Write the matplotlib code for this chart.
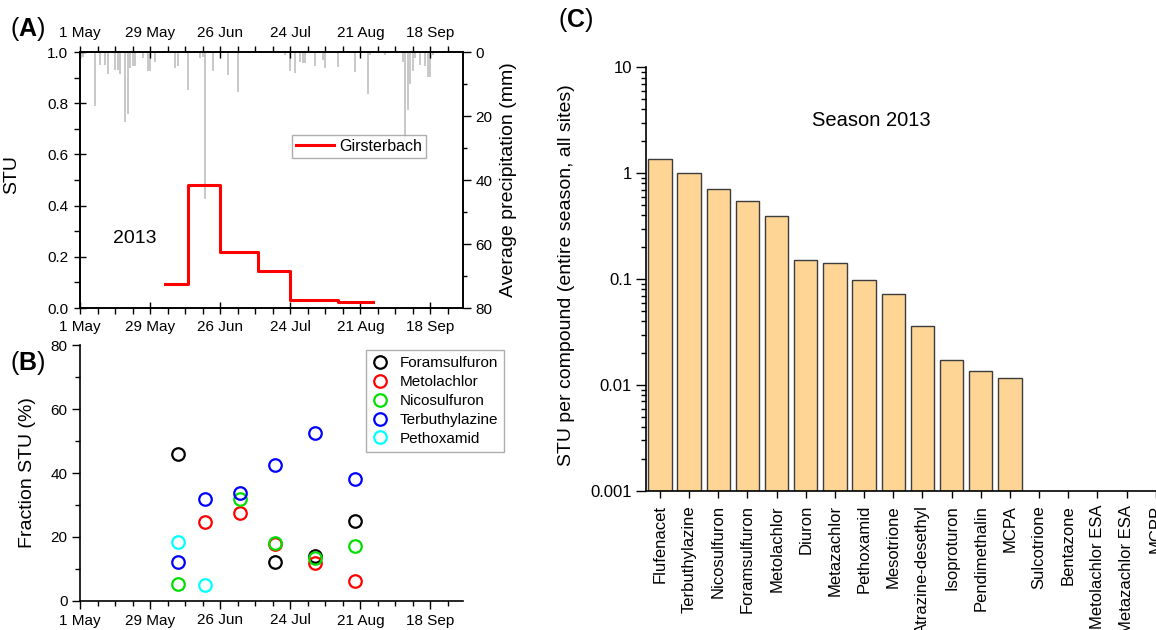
import numpy as np
import matplotlib
matplotlib.use("Agg")
import matplotlib.pyplot as plt
import matplotlib.dates as mdates
import matplotlib.ticker as mticker

plt.rcParams['font.family'] = ['Liberation Sans', 'DejaVu Sans']
plt.rcParams['mathtext.fontset'] = 'custom'
plt.rcParams['mathtext.rm'] = 'Liberation Sans'
plt.rcParams['mathtext.bf'] = 'Liberation Sans:bold'

# ---------------- data ----------------
step_dates = ["2013-06-04", "2013-06-13", "2013-06-26", "2013-07-11",
              "2013-07-24", "2013-08-12", "2013-08-26"]
step_stu = [0.095, 0.48, 0.22, 0.145, 0.03, 0.022]

precip_dates = ["2013-05-01", "2013-05-02", "2013-05-07", "2013-05-09", "2013-05-11",
                "2013-05-12", "2013-05-15", "2013-05-16", "2013-05-17", "2013-05-19",
                "2013-05-20", "2013-05-21", "2013-05-22", "2013-05-23", "2013-05-26",
                "2013-05-28", "2013-05-29", "2013-05-31", "2013-06-08", "2013-06-09",
                "2013-06-13", "2013-06-18", "2013-06-19", "2013-06-20", "2013-06-23",
                "2013-06-29", "2013-07-03", "2013-07-22", "2013-07-24", "2013-07-26",
                "2013-07-28", "2013-07-29", "2013-07-30", "2013-08-03", "2013-08-06",
                "2013-08-07", "2013-08-12", "2013-08-19", "2013-08-24", "2013-08-25",
                "2013-08-31", "2013-09-07", "2013-09-08", "2013-09-09", "2013-09-10",
                "2013-09-11", "2013-09-12", "2013-09-14", "2013-09-16", "2013-09-17",
                "2013-09-18", "2013-09-19"]
precip_mm = [1.0, 1.5, 17, 4, 4, 7, 5.5, 5.5, 7, 22, 19.5, 5, 4.5, 4.4, 2, 6, 6, 3,
             5, 4.5, 12, 2, 1.5, 46, 6, 7.3, 12.5, 1, 6, 6.6, 3, 3.5, 3.5, 4.5, 2.5,
             5, 4.6, 6.3, 13.2, 1, 0.8, 3, 28, 18, 10, 6, 2, 4, 4.5, 7.8, 7.8, 1]

sample_dates = ["2013-06-09", "2013-06-20", "2013-07-04", "2013-07-18", "2013-08-03", "2013-08-19"]
foramsulfuron = [46.0, np.nan, np.nan, 12.3, 14.2, 24.9]
metolachlor = [np.nan, 24.8, 27.4, 17.7, 11.8, 6.3]
nicosulfuron = [5.3, np.nan, 32.0, 18.2, 13.5, 17.3]
terbuthylazine = [12.2, 31.9, 33.6, 42.5, 52.4, 38.1]
pethoxamid = [18.5, 5.1, np.nan, np.nan, np.nan, np.nan]

compounds = ["Flufenacet", "Terbuthylazine", "Nicosulfuron", "Foramsulfuron", "Metolachlor",
             "Diuron", "Metazachlor", "Pethoxamid", "Mesotrione", "Atrazine-desethyl",
             "Isoproturon", "Pendimethalin", "MCPA", "Sulcotrione", "Bentazone",
             "Metolachlor ESA", "Metazachlor ESA", "MCPP"]
stu_per_compound = [1.36, 1.01, 0.71, 0.55, 0.39, 0.151, 0.141, 0.097, 0.071, 0.0352,
                    0.0162, 0.0126, 0.0107, 0, 0, 0, 0, 0]

date_ticks = ["2013-05-01", "2013-05-29", "2013-06-26", "2013-07-24", "2013-08-21", "2013-09-18"]
date_tick_labels = ["1 May", "29 May", "26 Jun", "24 Jul", "21 Aug", "18 Sep"]

# ---------------- helpers ----------------
W, H = 1156, 630
def rect(l, t, r, b):
    return [l / W, 1 - b / H, (r - l) / W, (b - t) / H]

def d(lst):
    return np.array(lst, dtype="datetime64[D]")

xmin, xmax = np.datetime64("2013-05-01"), np.datetime64("2013-10-01")
weekly = np.arange(xmin, xmax, 7)

fig = plt.figure(figsize=(W / 100, H / 100), dpi=100)

TICK = 11

def date_axis(ax):
    ax.set_xlim(xmin, xmax)
    ax.set_xticks(d(date_ticks))
    ax.set_xticklabels(date_tick_labels)
    ax.set_xticks(weekly, minor=True)

# ---------------- Panel A ----------------
axA = fig.add_axes(rect(80, 52, 463, 308))
axP = axA.twinx()
axA.set_zorder(axP.get_zorder() + 1)
axA.patch.set_visible(False)

axP.bar(d(precip_dates), precip_mm, width=0.8, color="#c9c9c9", linewidth=0)
axP.set_ylim(80, 0)
axP.set_yticks([0, 20, 40, 60, 80])
axP.yaxis.set_minor_locator(mticker.MultipleLocator(10))
axP.tick_params(axis="y", which="major", direction="out", length=6, width=1, labelsize=TICK, pad=3)
axP.tick_params(axis="y", which="minor", direction="out", length=3, width=1)
axP.set_ylabel("Average precipitation (mm)", fontsize=14)
axP.yaxis.set_label_coords(1.097, 0.5)

sd = d(step_dates)
axA.step(sd, step_stu + [step_stu[-1]], where="post", color="#ff0000", lw=2.2, label="Girsterbach")
date_axis(axA)
axA.set_ylim(0, 1.0)
axA.yaxis.set_major_locator(mticker.MultipleLocator(0.2))
axA.yaxis.set_minor_locator(mticker.MultipleLocator(0.1))
axA.yaxis.set_major_formatter(mticker.FormatStrFormatter("%.1f"))
axA.tick_params(axis="both", which="major", direction="inout", length=9, width=1, labelsize=TICK)
axA.tick_params(axis="both", which="minor", direction="out", length=4, width=1)
axA.tick_params(axis="x", which="both", top=True, labeltop=True, pad=4)
axA.tick_params(axis="y", pad=4)
axA.set_ylabel("STU", fontsize=14)
axA.yaxis.set_label_coords(-0.157, 0.52)
axA.text(np.datetime64("2013-05-23"), 0.273, "2013", fontsize=14, ha="center", va="center")
legA = axA.legend(loc="upper left", bbox_to_anchor=(0.553, 0.676), fontsize=11.5,
                  frameon=True, fancybox=False, edgecolor="#9a9a9a", handlelength=2.4,
                  handletextpad=0.3, borderpad=0.25, borderaxespad=0)
legA.get_frame().set_linewidth(1.0)
for s in list(axA.spines.values()) + list(axP.spines.values()):
    s.set_linewidth(1.2)

# ---------------- Panel B ----------------
axB = fig.add_axes(rect(80, 345, 463, 601))
series = [("Foramsulfuron", foramsulfuron, "#000000"),
          ("Metolachlor", metolachlor, "#ff0000"),
          ("Nicosulfuron", nicosulfuron, "#00e000"),
          ("Terbuthylazine", terbuthylazine, "#0000ff"),
          ("Pethoxamid", pethoxamid, "#00ffff")]
sdates = d(sample_dates)
for name, vals, col in series:
    axB.plot(sdates, vals, "o", mfc="none", mec=col, ms=9, mew=1.6, label=name, linestyle="none")
date_axis(axB)
axB.set_ylim(0, 80)
axB.yaxis.set_major_locator(mticker.MultipleLocator(20))
axB.yaxis.set_minor_locator(mticker.MultipleLocator(10))
axB.spines["top"].set_visible(False)
axB.spines["right"].set_visible(False)
for s in axB.spines.values():
    s.set_linewidth(1.2)
axB.tick_params(axis="both", which="major", direction="out", length=6, width=1, labelsize=TICK, pad=3)
axB.tick_params(axis="both", which="minor", direction="out", length=3.5, width=1)
axB.set_ylabel("Fraction STU (%)", fontsize=14)
axB.yaxis.set_label_coords(-0.115, 0.5)
legB = axB.legend(loc="upper left", bbox_to_anchor=(0.747, 0.98), fontsize=11,
                  frameon=True, fancybox=False, edgecolor="#9a9a9a", handlelength=1.0,
                  handletextpad=0.8, borderpad=0.4, labelspacing=0.32, borderaxespad=0,
                  numpoints=1)
legB.get_frame().set_linewidth(1.0)

# ---------------- Panel C ----------------
n = len(compounds)
spacing = 29.16
axC = fig.add_axes(rect(646, 67.3, 646 + n * spacing, 491))
xpos = np.arange(n)
vals = np.array(stu_per_compound, dtype=float)
mask = vals > 0
axC.bar(xpos[mask], vals[mask], width=0.8, bottom=1e-3, color="#ffd596",
        edgecolor="#3c3c3c", linewidth=1.0)
axC.set_yscale("log")
axC.set_ylim(1e-3, 10)
axC.set_xlim(-0.48, n - 0.48)
axC.set_xticks(xpos)
axC.set_xticklabels(compounds, rotation=90, fontsize=12)
axC.yaxis.set_major_locator(mticker.LogLocator(base=10, numticks=10))
axC.yaxis.set_minor_locator(mticker.LogLocator(base=10, subs=np.arange(2, 10), numticks=10))
axC.yaxis.set_major_formatter(mticker.FuncFormatter(lambda v, p: f"{v:g}"))
axC.yaxis.set_minor_formatter(mticker.NullFormatter())
axC.spines["top"].set_visible(False)
axC.spines["right"].set_visible(False)
for s in axC.spines.values():
    s.set_linewidth(1.2)
axC.tick_params(axis="y", which="major", direction="out", length=7, width=1, labelsize=12, pad=3)
axC.tick_params(axis="y", which="minor", direction="out", length=3.5, width=1)
axC.tick_params(axis="x", which="major", direction="out", length=5, width=1, pad=5)
axC.set_ylabel("STU per compound (entire season, all sites)", fontsize=14)
axC.yaxis.set_label_coords(-0.135, 0.51)
fig.text(871 / W, 1 - 121 / H, "Season 2013", fontsize=14.5, ha="center", va="center")

# ---------------- panel letters ----------------
fig.text(28 / W, 1 - 29 / H, r"($\mathbf{A}$)", fontsize=18, ha="center", va="center")
fig.text(28 / W, 1 - 363 / H, r"($\mathbf{B}$)", fontsize=18, ha="center", va="center")
fig.text(576 / W, 1 - 20 / H, r"($\mathbf{C}$)", fontsize=18, ha="center", va="center")

fig.savefig("out.png", dpi=100)
